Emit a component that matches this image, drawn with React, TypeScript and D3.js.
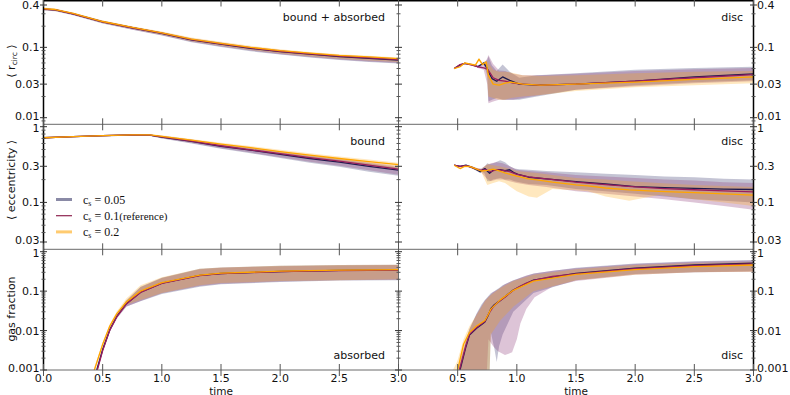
import React, { useEffect, useRef } from "react";
import * as d3 from "d3";

// rows: [time, mean, lower, upper]
type Row = [number, number, number, number];

const timeTicks = [0, 0.5, 1, 1.5, 2, 2.5, 3];
const rTicks = [0.01, 0.03, 0.1, 0.4];
const eTicks = [0.03, 0.1, 0.3, 1];
const gTicks = [0.001, 0.01, 0.1, 1];
const seriesLabels = ["0.05", "0.1", "0.2"];

const rcircAll05: Row[] = [
  [0, 0.35, 0.335, 0.365], [0.1, 0.34, 0.325, 0.352], [0.25, 0.3, 0.285, 0.31],
  [0.5, 0.23, 0.218, 0.238], [0.75, 0.19, 0.178, 0.197], [1, 0.158, 0.147, 0.164],
  [1.25, 0.128, 0.118, 0.134], [1.5, 0.111, 0.101, 0.116], [1.75, 0.097, 0.088, 0.101],
  [2, 0.087, 0.079, 0.091], [2.25, 0.08, 0.072, 0.083], [2.5, 0.074, 0.066, 0.077],
  [2.75, 0.07, 0.062, 0.073], [3, 0.066, 0.059, 0.069],
];
const rcircAll10: Row[] = [
  [0, 0.35, 0.338, 0.362], [0.1, 0.34, 0.328, 0.35], [0.25, 0.3, 0.288, 0.308],
  [0.5, 0.231, 0.22, 0.238], [0.75, 0.19, 0.18, 0.197], [1, 0.159, 0.149, 0.165],
  [1.25, 0.129, 0.12, 0.135], [1.5, 0.112, 0.103, 0.117], [1.75, 0.098, 0.09, 0.102],
  [2, 0.088, 0.08, 0.092], [2.25, 0.081, 0.073, 0.084], [2.5, 0.075, 0.067, 0.078],
  [2.75, 0.071, 0.063, 0.074], [3, 0.067, 0.06, 0.07],
];
const rcircAll20: Row[] = [
  [0, 0.355, 0.34, 0.368], [0.1, 0.345, 0.33, 0.356], [0.25, 0.305, 0.292, 0.314],
  [0.5, 0.233, 0.222, 0.241], [0.75, 0.192, 0.182, 0.2], [1, 0.161, 0.151, 0.168],
  [1.25, 0.131, 0.122, 0.138], [1.5, 0.114, 0.105, 0.12], [1.75, 0.1, 0.092, 0.105],
  [2, 0.09, 0.082, 0.094], [2.25, 0.083, 0.075, 0.086], [2.5, 0.077, 0.069, 0.08],
  [2.75, 0.073, 0.065, 0.076], [3, 0.069, 0.062, 0.072],
];

const rcircDisc05: Row[] = [
  [0.47, 0.05, 0.05, 0.05], [0.52, 0.056, 0.055, 0.057], [0.56, 0.059, 0.058, 0.06],
  [0.62, 0.057, 0.056, 0.058], [0.67, 0.053, 0.052, 0.055], [0.72, 0.06, 0.057, 0.062],
  [0.75, 0.05, 0.04, 0.066], [0.76, 0.045, 0.017, 0.075], [0.79, 0.036, 0.018, 0.055],
  [0.83, 0.033, 0.019, 0.046], [0.88, 0.038, 0.018, 0.057], [0.94, 0.034, 0.018, 0.045],
  [1.02, 0.03, 0.018, 0.037], [1.17, 0.029, 0.02, 0.04], [1.5, 0.03, 0.025, 0.043],
  [2, 0.033, 0.029, 0.048], [2.5, 0.038, 0.032, 0.051], [3, 0.042, 0.034, 0.053],
];
const rcircDisc10: Row[] = [
  [0.47, 0.05, 0.05, 0.05], [0.52, 0.057, 0.056, 0.058], [0.56, 0.059, 0.058, 0.06],
  [0.62, 0.056, 0.055, 0.057], [0.67, 0.053, 0.051, 0.055], [0.72, 0.051, 0.048, 0.056],
  [0.75, 0.049, 0.03, 0.07], [0.76, 0.047, 0.016, 0.078], [0.8, 0.037, 0.017, 0.058],
  [0.85, 0.034, 0.018, 0.047], [0.9, 0.033, 0.018, 0.046], [0.97, 0.031, 0.018, 0.042],
  [1.05, 0.03, 0.019, 0.04], [1.2, 0.029, 0.021, 0.04], [1.5, 0.03, 0.025, 0.042],
  [2, 0.033, 0.028, 0.046], [2.5, 0.037, 0.031, 0.049], [3, 0.041, 0.033, 0.051],
];
const rcircDisc20: Row[] = [
  [0.47, 0.05, 0.05, 0.05], [0.52, 0.053, 0.052, 0.054], [0.56, 0.06, 0.058, 0.061],
  [0.6, 0.058, 0.057, 0.059], [0.65, 0.056, 0.054, 0.058], [0.68, 0.068, 0.064, 0.07],
  [0.71, 0.057, 0.055, 0.06], [0.74, 0.062, 0.058, 0.064], [0.76, 0.04, 0.02, 0.06],
  [0.8, 0.03, 0.019, 0.048], [0.85, 0.029, 0.018, 0.045], [0.9, 0.031, 0.018, 0.045],
  [0.95, 0.032, 0.019, 0.044], [1.05, 0.03, 0.02, 0.04], [1.2, 0.029, 0.021, 0.039],
  [1.5, 0.03, 0.024, 0.04], [2, 0.032, 0.027, 0.043], [2.5, 0.035, 0.029, 0.045],
  [3, 0.038, 0.031, 0.046],
];

const eccBound05: Row[] = [
  [0, 0.715, 0.7, 0.725], [0.25, 0.74, 0.725, 0.75], [0.5, 0.76, 0.745, 0.77],
  [0.75, 0.78, 0.765, 0.79], [0.9, 0.775, 0.755, 0.79], [1, 0.73, 0.7, 0.755],
  [1.25, 0.64, 0.6, 0.67], [1.5, 0.55, 0.51, 0.58], [1.75, 0.49, 0.445, 0.52],
  [2, 0.43, 0.385, 0.46], [2.25, 0.38, 0.335, 0.41], [2.5, 0.34, 0.295, 0.37],
  [2.75, 0.3, 0.255, 0.33], [3, 0.267, 0.225, 0.29],
];
const eccBound10: Row[] = [
  [0, 0.715, 0.7, 0.725], [0.25, 0.74, 0.725, 0.75], [0.5, 0.76, 0.745, 0.77],
  [0.75, 0.78, 0.765, 0.79], [0.9, 0.776, 0.757, 0.79], [1, 0.735, 0.705, 0.76],
  [1.25, 0.645, 0.61, 0.675], [1.5, 0.56, 0.52, 0.59], [1.75, 0.495, 0.455, 0.53],
  [2, 0.44, 0.395, 0.47], [2.25, 0.39, 0.345, 0.42], [2.5, 0.35, 0.305, 0.38],
  [2.75, 0.31, 0.265, 0.34], [3, 0.275, 0.232, 0.3],
];
const eccBound20: Row[] = [
  [0, 0.715, 0.7, 0.725], [0.25, 0.74, 0.725, 0.75], [0.5, 0.76, 0.745, 0.77],
  [0.75, 0.78, 0.765, 0.79], [0.9, 0.78, 0.76, 0.795], [1, 0.745, 0.715, 0.77],
  [1.25, 0.665, 0.63, 0.69], [1.5, 0.59, 0.55, 0.615], [1.75, 0.53, 0.49, 0.555],
  [2, 0.47, 0.43, 0.495], [2.25, 0.42, 0.38, 0.445], [2.5, 0.38, 0.34, 0.405],
  [2.75, 0.345, 0.305, 0.37], [3, 0.315, 0.275, 0.335],
];

const eccDisc05: Row[] = [
  [0.47, 0.31, 0.305, 0.315], [0.52, 0.3, 0.295, 0.305], [0.57, 0.31, 0.3, 0.315],
  [0.62, 0.29, 0.28, 0.3], [0.66, 0.27, 0.26, 0.28], [0.69, 0.254, 0.245, 0.265],
  [0.71, 0.27, 0.255, 0.285], [0.73, 0.28, 0.24, 0.3], [0.75, 0.26, 0.19, 0.33],
  [0.77, 0.243, 0.19, 0.32], [0.8, 0.265, 0.2, 0.33], [0.86, 0.27, 0.21, 0.36],
  [0.9, 0.262, 0.2, 0.34], [0.94, 0.27, 0.2, 0.3], [0.98, 0.245, 0.19, 0.28],
  [1.02, 0.232, 0.185, 0.275], [1.1, 0.215, 0.175, 0.27], [1.25, 0.205, 0.17, 0.26],
  [1.5, 0.188, 0.15, 0.25], [1.75, 0.175, 0.14, 0.24], [2, 0.162, 0.13, 0.23],
  [2.25, 0.157, 0.12, 0.22], [2.5, 0.153, 0.11, 0.215], [2.75, 0.15, 0.105, 0.205],
  [3, 0.148, 0.1, 0.2],
];
const eccDisc10: Row[] = [
  [0.47, 0.31, 0.305, 0.315], [0.52, 0.3, 0.295, 0.305], [0.57, 0.305, 0.3, 0.31],
  [0.62, 0.29, 0.28, 0.3], [0.66, 0.275, 0.265, 0.285], [0.7, 0.265, 0.25, 0.28],
  [0.74, 0.27, 0.21, 0.31], [0.78, 0.255, 0.19, 0.33], [0.83, 0.27, 0.2, 0.34],
  [0.88, 0.265, 0.2, 0.33], [0.94, 0.255, 0.19, 0.3], [1, 0.235, 0.18, 0.27],
  [1.1, 0.218, 0.17, 0.26], [1.25, 0.205, 0.16, 0.25], [1.5, 0.185, 0.14, 0.23],
  [1.75, 0.172, 0.13, 0.22], [2, 0.16, 0.12, 0.21], [2.25, 0.152, 0.11, 0.2],
  [2.5, 0.147, 0.1, 0.195], [2.75, 0.142, 0.09, 0.185], [3, 0.138, 0.08, 0.18],
];
const eccDisc20: Row[] = [
  [0.47, 0.31, 0.305, 0.315], [0.52, 0.28, 0.275, 0.29], [0.56, 0.3, 0.29, 0.31],
  [0.6, 0.3, 0.29, 0.31], [0.65, 0.28, 0.27, 0.29], [0.7, 0.26, 0.25, 0.275],
  [0.75, 0.265, 0.17, 0.32], [0.8, 0.275, 0.18, 0.31], [0.85, 0.26, 0.19, 0.3],
  [0.9, 0.245, 0.18, 0.29], [1, 0.222, 0.14, 0.26], [1.1, 0.205, 0.12, 0.25],
  [1.17, 0.198, 0.115, 0.245], [1.3, 0.185, 0.15, 0.23], [1.5, 0.17, 0.145, 0.21],
  [1.6, 0.165, 0.14, 0.205], [1.75, 0.155, 0.12, 0.2], [1.95, 0.146, 0.105, 0.19],
  [2.2, 0.14, 0.125, 0.18], [2.5, 0.135, 0.11, 0.17], [2.75, 0.13, 0.1, 0.165],
  [3, 0.125, 0.09, 0.16],
];

const gasAbs05: Row[] = [
  [0.44, 0.0008, 0.0007, 0.0009], [0.45, 0.001, 0.0009, 0.0011], [0.5, 0.0033, 0.003, 0.0037],
  [0.56, 0.0105, 0.0095, 0.0118], [0.62, 0.023, 0.021, 0.026], [0.7, 0.048, 0.041, 0.058],
  [0.82, 0.094, 0.055, 0.13], [1, 0.16, 0.085, 0.22], [1.32, 0.25, 0.13, 0.37],
  [1.5, 0.28, 0.15, 0.4], [2, 0.315, 0.17, 0.44], [2.5, 0.335, 0.185, 0.46],
  [3, 0.345, 0.19, 0.47],
];
const gasAbs10: Row[] = [
  [0.445, 0.0008, 0.0007, 0.0009], [0.455, 0.001, 0.0009, 0.0011], [0.5, 0.0031, 0.0028, 0.0035],
  [0.56, 0.0102, 0.0092, 0.0115], [0.62, 0.0225, 0.02, 0.026], [0.7, 0.047, 0.04, 0.057],
  [0.82, 0.093, 0.056, 0.125], [1, 0.158, 0.088, 0.215], [1.32, 0.248, 0.135, 0.36],
  [1.5, 0.278, 0.155, 0.39], [2, 0.313, 0.175, 0.43], [2.5, 0.333, 0.19, 0.45],
  [3, 0.343, 0.195, 0.46],
];
const gasAbs20: Row[] = [
  [0.42, 0.0008, 0.0007, 0.0009], [0.43, 0.001, 0.0009, 0.0012], [0.5, 0.0045, 0.004, 0.005],
  [0.56, 0.013, 0.0115, 0.0145], [0.62, 0.027, 0.024, 0.031], [0.7, 0.053, 0.045, 0.065],
  [0.82, 0.1, 0.06, 0.14], [1, 0.165, 0.09, 0.225], [1.32, 0.255, 0.14, 0.37],
  [1.5, 0.285, 0.16, 0.4], [2, 0.32, 0.18, 0.44], [2.5, 0.34, 0.19, 0.46],
  [3, 0.35, 0.2, 0.47],
];

const gasDisc05: Row[] = [
  [0.51, 0.0008, 0.0001, 0.001], [0.52, 0.001, 0.0001, 0.0015], [0.57, 0.0039, 0.0001, 0.0057],
  [0.6, 0.0077, 0.0001, 0.011], [0.66, 0.0114, 0.0001, 0.027], [0.7, 0.014, 0.0001, 0.045],
  [0.73, 0.0166, 0.0001, 0.06], [0.76, 0.025, 0.0001, 0.075], [0.78, 0.036, 0.009, 0.088],
  [0.81, 0.045, 0.0035, 0.1], [0.83, 0.05, 0.0016, 0.11], [0.85, 0.055, 0.004, 0.12],
  [0.88, 0.065, 0.008, 0.14], [0.97, 0.107, 0.03, 0.19], [1.14, 0.19, 0.09, 0.28],
  [1.5, 0.28, 0.19, 0.39], [2, 0.38, 0.27, 0.5], [2.5, 0.46, 0.3, 0.57],
  [3, 0.51, 0.32, 0.62],
];
const gasDisc10: Row[] = [
  [0.505, 0.0008, 0.0001, 0.001], [0.515, 0.001, 0.0001, 0.0015], [0.57, 0.0042, 0.0001, 0.0057],
  [0.6, 0.008, 0.0001, 0.011], [0.66, 0.012, 0.0001, 0.026], [0.73, 0.017, 0.0001, 0.058],
  [0.76, 0.026, 0.006, 0.072], [0.8, 0.04, 0.004, 0.095], [0.84, 0.052, 0.003, 0.11],
  [0.9, 0.07, 0.0024, 0.15], [0.96, 0.1, 0.0028, 0.18], [1, 0.12, 0.006, 0.2],
  [1.03, 0.135, 0.015, 0.22], [1.08, 0.16, 0.035, 0.25], [1.15, 0.19, 0.07, 0.28],
  [1.3, 0.235, 0.13, 0.33], [1.5, 0.275, 0.18, 0.38], [2, 0.37, 0.26, 0.49],
  [2.5, 0.44, 0.3, 0.56], [3, 0.49, 0.31, 0.6],
];
const gasDisc20: Row[] = [
  [0.46, 0.0002, 0.0001, 0.001], [0.49, 0.0008, 0.0001, 0.0015], [0.5, 0.001, 0.0001, 0.0018],
  [0.55, 0.0045, 0.0001, 0.006], [0.6, 0.009, 0.0001, 0.013], [0.66, 0.013, 0.0001, 0.025],
  [0.73, 0.018, 0.0001, 0.055], [0.76, 0.026, 0.0001, 0.07], [0.78, 0.035, 0.008, 0.08],
  [0.86, 0.06, 0.018, 0.12], [0.97, 0.105, 0.04, 0.18], [1.14, 0.18, 0.1, 0.26],
  [1.5, 0.265, 0.19, 0.36], [2, 0.35, 0.26, 0.46], [2.5, 0.42, 0.3, 0.52],
  [3, 0.46, 0.31, 0.55],
];

const lineColors = ["#1e1b4f", "#9a1f5e", "#ffa500"];
const bandColors = ["#3a3a72", "#8e3a7a", "#ffa500"];
const bandOpacity = [0.3, 0.3, 0.25];

const FONT = "'DejaVu Sans', sans-serif";

const App = () => {
  const svgRef = useRef<SVGSVGElement>(null);

  useEffect(() => {
    const svg = d3.select(svgRef.current);
    svg.selectAll("*").remove();

    const cols = [
      d3.scaleLinear().domain([0, 3]).range([43.5, 398.5]),
      d3.scaleLinear().domain([0, 3]).range([398.5, 753.5]),
    ];
    // row frame and where the first/last tick sit
    const rows = [
      { top: 0.5, bottom: 124.3, ticks: rTicks, yLo: 117.7, yHi: 5 },
      { top: 124.3, bottom: 249.3, ticks: eTicks, yLo: 242, yHi: 126.7 },
      { top: 249.3, bottom: 370, ticks: gTicks, yLo: 370, yHi: 251.7 },
    ];
    const yScales = rows.map((r) =>
      d3.scaleLog().domain([r.ticks[0], r.ticks[r.ticks.length - 1]]).range([r.yLo, r.yHi])
    );

    const panels = [
      { row: 0, col: 0, series: [rcircAll05, rcircAll10, rcircAll20], label: "bound + absorbed" },
      { row: 0, col: 1, series: [rcircDisc05, rcircDisc10, rcircDisc20], label: "disc" },
      { row: 1, col: 0, series: [eccBound05, eccBound10, eccBound20], label: "bound" },
      { row: 1, col: 1, series: [eccDisc05, eccDisc10, eccDisc20], label: "disc" },
      { row: 2, col: 0, series: [gasAbs05, gasAbs10, gasAbs20], label: "absorbed" },
      { row: 2, col: 1, series: [gasDisc05, gasDisc10, gasDisc20], label: "disc" },
    ];

    svg.append("rect").attr("width", 790).attr("height", 395).attr("fill", "white");
    const defs = svg.append("defs");

    panels.forEach((p, i) => {
      const x = cols[p.col];
      const y = yScales[p.row];
      const r = rows[p.row];
      const [x0, x1] = x.range();
      defs.append("clipPath").attr("id", `clip${i}`)
        .append("rect").attr("x", x0).attr("y", r.top).attr("width", x1 - x0).attr("height", r.bottom - r.top);

      const g = svg.append("g").attr("clip-path", `url(#clip${i})`);
      const area = d3.area<Row>().x((d) => x(d[0])).y0((d) => y(d[2])).y1((d) => y(d[3]));
      const line = d3.line<Row>().x((d) => x(d[0])).y((d) => y(d[1]));

      p.series.forEach((s, k) => {
        g.append("path").attr("d", area(s)).attr("fill", bandColors[k])
          .attr("fill-opacity", bandOpacity[k]).attr("stroke", "none");
      });
      p.series.forEach((s, k) => {
        g.append("path").attr("d", line(s)).attr("fill", "none")
          .attr("stroke", lineColors[k]).attr("stroke-width", 1.3).attr("stroke-linejoin", "round");
      });

      const labelY = p.row === 2 ? r.bottom - 11 : r.top + 20.5;
      svg.append("text").attr("x", p.col === 0 ? 385 : 743).attr("y", labelY)
        .attr("text-anchor", "end").attr("font-family", FONT).attr("font-size", 11)
        .attr("fill", "#111").text(p.label);
    });

    // frame
    const frame = svg.append("g");
    [124.3, 249.3, 370].forEach((yy) => {
      frame.append("line").attr("x1", 43.5).attr("x2", 753.5).attr("y1", yy).attr("y2", yy)
        .attr("stroke", "#6a6a6a").attr("stroke-width", 1);
    });
    frame.append("line").attr("x1", 398.5).attr("x2", 398.5).attr("y1", 0).attr("y2", 370)
      .attr("stroke", "#6a6a6a").attr("stroke-width", 1);
    frame.append("line").attr("x1", 43).attr("x2", 754).attr("y1", 0.75).attr("y2", 0.75)
      .attr("stroke", "#000").attr("stroke-width", 1.5);
    [43.5, 753.5].forEach((xx) => {
      frame.append("line").attr("x1", xx).attr("x2", xx).attr("y1", 0).attr("y2", 370.5)
        .attr("stroke", "#000").attr("stroke-width", 1.5);
    });

    // x ticks on each horizontal border
    const tickG = svg.append("g").attr("stroke", "#555").attr("stroke-width", 1);
    const borders = [0.5, 124.3, 249.3, 370];
    cols.forEach((x) => {
      timeTicks.forEach((t) => {
        borders.forEach((b) => {
          tickG.append("line").attr("x1", x(t)).attr("x2", x(t))
            .attr("y1", Math.max(0, b - 6)).attr("y2", b + 6);
        });
      });
    });

    // y ticks: majors at the labels, log minors in between
    rows.forEach((r, ri) => {
      const y = yScales[ri];
      const minors: number[] = [];
      for (let e = -4; e <= 1; e++) {
        for (let m = 1; m <= 9; m++) {
          const v = m * Math.pow(10, e);
          const py = y(v);
          if (py >= r.top && py <= r.bottom && !r.ticks.some((t) => Math.abs(t - v) < 1e-9)) minors.push(v);
        }
      }
      [43.5, 398.5, 753.5].forEach((sx) => {
        r.ticks.forEach((t) => {
          tickG.append("line").attr("x1", sx - 3.5).attr("x2", sx + 3.5)
            .attr("y1", y(t)).attr("y2", y(t)).attr("stroke", "#333");
        });
        minors.forEach((v) => {
          tickG.append("line").attr("x1", sx - 2).attr("x2", sx + 2)
            .attr("y1", y(v)).attr("y2", y(v));
        });
      });

      const last = r.ticks.length - 1;
      r.ticks.forEach((t, ti) => {
        // labels at the row edges are nudged apart a little, as they crowd the borders
        const nudge = ti === 0 ? -2 : ti === last && ri > 0 ? 1.5 : 0;
        const ly = y(t) + nudge;
        svg.append("text").attr("x", 39.5).attr("y", ly).attr("dy", "0.36em")
          .attr("text-anchor", "end").attr("font-family", FONT).attr("font-size", 11)
          .attr("fill", "#111").text(String(t));
        svg.append("text").attr("x", 757).attr("y", ly).attr("dy", "0.36em")
          .attr("text-anchor", "start").attr("font-family", FONT).attr("font-size", 11)
          .attr("fill", "#111").text(String(t));
      });
    });

    // x tick labels on the bottom row
    const fmt = d3.format(".1f");
    cols.forEach((x, ci) => {
      timeTicks.forEach((t) => {
        if (ci === 1 && t === 0) return;
        svg.append("text").attr("x", x(t)).attr("y", 382).attr("text-anchor", "middle")
          .attr("font-family", FONT).attr("font-size", 11).attr("fill", "#111").text(fmt(t));
      });
      svg.append("text").attr("x", (x.range()[0] + x.range()[1]) / 2).attr("y", 394.5)
        .attr("text-anchor", "middle").attr("font-family", FONT).attr("font-size", 10.5)
        .attr("fill", "#111").text("time");
    });

    // y axis titles
    const yTitle = (cy: number) =>
      svg.append("text").attr("transform", `translate(11,${cy}) rotate(-90)`)
        .attr("text-anchor", "middle").attr("dominant-baseline", "central")
        .attr("font-family", FONT).attr("font-size", 11).attr("fill", "#111");
    const rt = yTitle(61);
    rt.append("tspan").text("\u27E8 r");
    rt.append("tspan").attr("font-size", 7.5).attr("dy", 2.5).text("circ");
    rt.append("tspan").attr("dy", -2.5).text(" \u27E9");
    yTitle(180).text("\u27E8 eccentricity \u27E9");
    yTitle(309).text("gas fraction");

    // legend
    const leg = svg.append("g");
    const legStyles = [
      { color: "#8a8aa6", width: 3 },
      { color: "#8e2450", width: 1.2 },
      { color: "#ffcb70", width: 3 },
    ];
    seriesLabels.forEach((lab, k) => {
      const ly = 199.5 + k * 16.2;
      leg.append("line").attr("x1", 56).attr("x2", 72).attr("y1", ly).attr("y2", ly)
        .attr("stroke", legStyles[k].color).attr("stroke-width", legStyles[k].width);
      const tx = leg.append("text").attr("x", 83).attr("y", ly + 4)
        .attr("font-family", "'Liberation Serif', 'DejaVu Serif', serif").attr("font-size", 12)
        .attr("fill", "#111");
      tx.append("tspan").text("c");
      tx.append("tspan").attr("font-size", 8).attr("dy", 2.5).text("s");
      tx.append("tspan").attr("dy", -2.5).text(` = ${lab}`);
      if (k === 1) tx.append("tspan").attr("font-size", 11).text("(reference)");
    });
  }, []);

  return (
    <div style={{ position: "absolute", left: 0, top: 0 }}>
      <svg ref={svgRef} width={790} height={395} style={{ display: "block" }} />
    </div>
  );
};

export default App;
